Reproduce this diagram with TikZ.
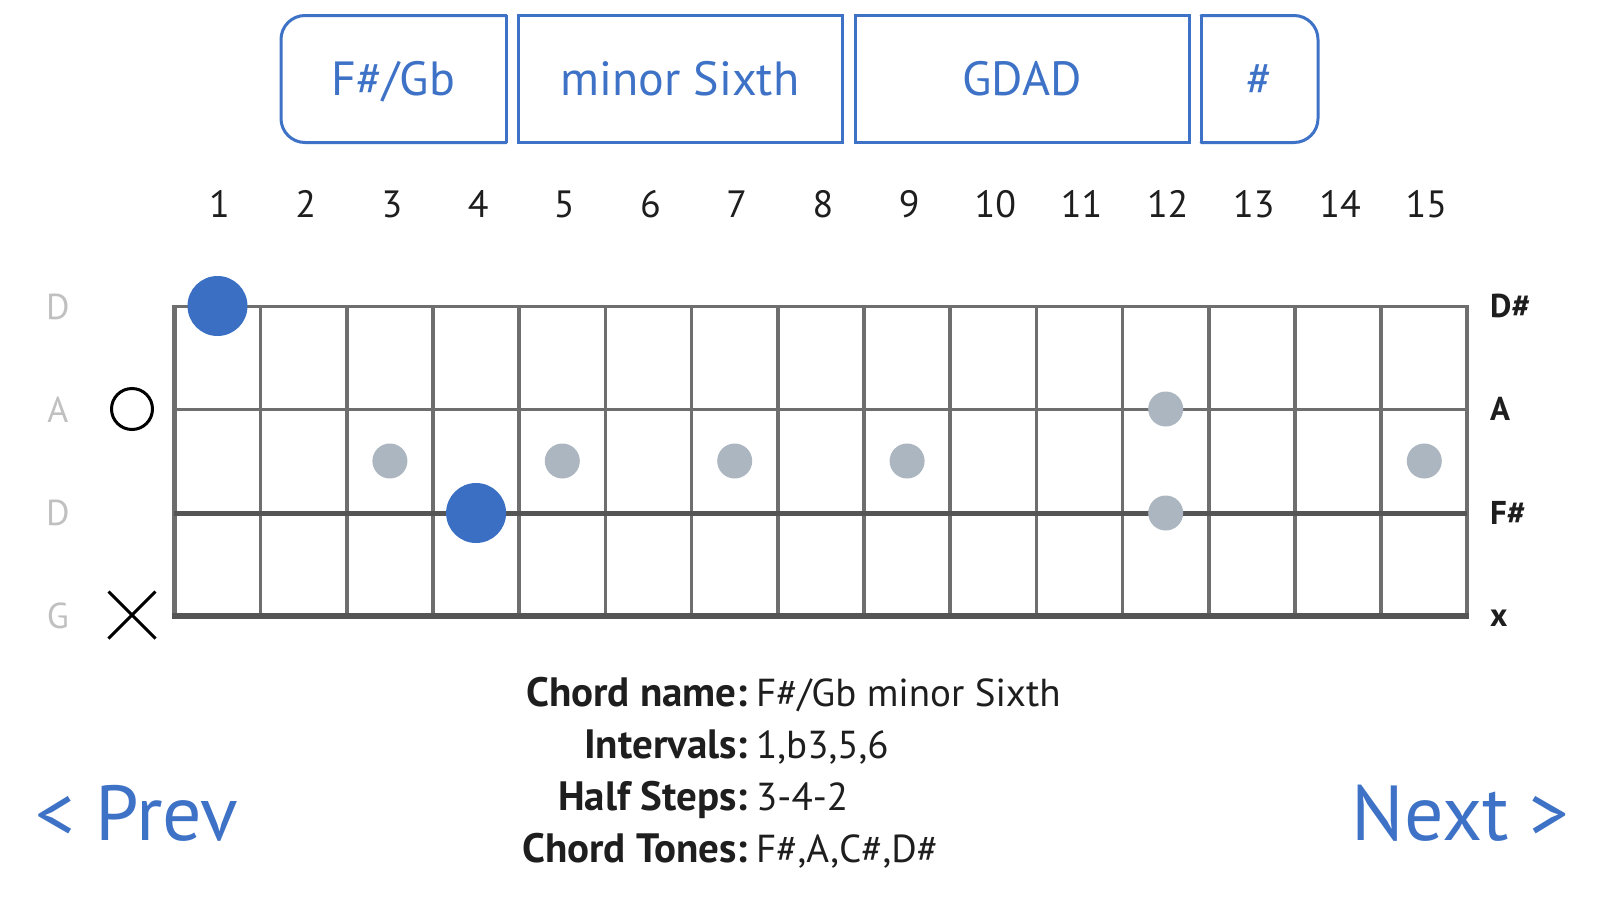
\documentclass[tikz,border=0pt]{standalone}
\usepackage{fontspec}
\setmainfont{PT Sans}
\usetikzlibrary{shapes.misc}

\definecolor{btnblue}{RGB}{62,114,198}
\definecolor{dotblue}{RGB}{58,111,196}
\definecolor{dotgray}{RGB}{172,182,192}
\definecolor{fretgray}{RGB}{110,110,110}
\definecolor{stringgray}{RGB}{85,85,85}
\definecolor{namegray}{RGB}{192,192,192}
\definecolor{txtdark}{RGB}{30,30,30}

\begin{document}
\begin{tikzpicture}[x=1pt,y=-1pt,
  btn/.style={draw=btnblue,line width=3pt,line cap=round},
  btntext/.style={text=btnblue,font=\fontsize{48}{56}\selectfont,minimum height=127pt,inner sep=0pt,outer sep=0pt,text height=33.6pt,text depth=0pt},
  fretnum/.style={text=txtdark,font=\fontsize{38}{44}\selectfont},
  strname/.style={text=namegray,font=\fontsize{36}{42}\selectfont},
  note/.style={text=txtdark,font=\bfseries\fontsize{33}{40}\selectfont,anchor=west,inner sep=0pt},
  fret/.style={draw=fretgray,line width=3.5pt},
  root/.style={circle,fill=dotblue,minimum size=60pt,inner sep=0pt},
  fretmark/.style={circle,fill=dotgray,minimum size=35pt,inner sep=0pt},
  info/.style={text=txtdark,font=\bfseries\fontsize{41}{46}\selectfont,anchor=base east,inner sep=0pt},
  infoval/.style={text=txtdark,font=\fontsize{39}{46}\selectfont,anchor=base west,inner sep=0pt},
  nav/.style={text=btnblue,font=\fontsize{78}{86}\selectfont,inner sep=0pt}]
\fill[white] (0,0) rectangle (1599,900);
\useasboundingbox (0,0) rectangle (1599,900);

\node[btntext,minimum width=225pt] (key) at (393.5,79) {F\#/Gb};
\draw[btn,rounded corners=24pt] (key.south east) -- (key.south west) -- (key.north west) -- (key.north east);
\draw[btn] (key.north east) -- (key.south east);
\node[btntext,btn,minimum width=324pt] (quality) at (680,79) {minor Sixth};
\node[btntext,btn,minimum width=334pt] (tuning) at (1022,79) {GDAD};
\node[btntext,minimum width=117pt] (accid) at (1259.5,79) {\#};
\draw[btn,rounded corners=24pt] (accid.north west) -- (accid.north east) -- (accid.south east) -- (accid.south west);
\draw[btn] (accid.south west) -- (accid.north west);

\node[fretnum] (n1) at (219.5,204) {1};
\node[fretnum] (n2) at (305.7,204) {2};
\node[fretnum] (n3) at (391.9,204) {3};
\node[fretnum] (n4) at (478.1,204) {4};
\node[fretnum] (n5) at (564.3,204) {5};
\node[fretnum] (n6) at (650.5,204) {6};
\node[fretnum] (n7) at (736.7,204) {7};
\node[fretnum] (n8) at (822.9,204) {8};
\node[fretnum] (n9) at (909.1,204) {9};
\node[fretnum] (n10) at (995.3,204) {10};
\node[fretnum] (n11) at (1081.5,204) {11};
\node[fretnum] (n12) at (1167.7,204) {12};
\node[fretnum] (n13) at (1253.9,204) {13};
\node[fretnum] (n14) at (1340.1,204) {14};
\node[fretnum] (n15) at (1426.3,204) {15};

\draw[fret,line width=4.5pt] (174.4,306) -- (174.4,616);
\draw[fret] (260.6,306) -- (260.6,616);
\draw[fret] (346.8,306) -- (346.8,616);
\draw[fret] (433.0,306) -- (433.0,616);
\draw[fret] (519.2,306) -- (519.2,616);
\draw[fret] (605.4,306) -- (605.4,616);
\draw[fret] (691.6,306) -- (691.6,616);
\draw[fret] (777.8,306) -- (777.8,616);
\draw[fret] (864.0,306) -- (864.0,616);
\draw[fret] (950.2,306) -- (950.2,616);
\draw[fret] (1036.4,306) -- (1036.4,616);
\draw[fret] (1122.6,306) -- (1122.6,616);
\draw[fret] (1208.8,306) -- (1208.8,616);
\draw[fret] (1295.0,306) -- (1295.0,616);
\draw[fret] (1381.2,306) -- (1381.2,616);
\draw[fret,line width=4pt] (1467.4,306) -- (1467.4,616);
\draw[fret,line width=3pt] (172.2,306) -- (1469.4,306);
\draw[fret,line width=3pt] (174.4,409) -- (1467.4,409);
\draw[draw=stringgray,line width=5pt] (174.4,513) -- (1467.4,513);
\draw[draw=stringgray,line width=5.5pt] (172.2,616) -- (1469.4,616);

\node[strname] (s4) at (58,307) {D};
\node[strname] (s3) at (58,410) {A};
\node[strname] (s2) at (58,513) {D};
\node[strname] (s1) at (58,616) {G};
\node[draw,circle,line width=3pt,minimum size=41pt,inner sep=0pt] (open) at (132,409) {};
\node[draw,cross out,line width=3pt,minimum size=44pt,inner sep=0pt] (mute) at (132,615) {};

\node[fretmark] (m3) at (389.9,461) {};
\node[fretmark] (m5) at (562.3,461) {};
\node[fretmark] (m7) at (734.7,461) {};
\node[fretmark] (m9) at (907.1,461) {};
\node[fretmark] (m12a) at (1165.7,409) {};
\node[fretmark] (m12b) at (1165.7,513) {};
\node[fretmark] (m15) at (1424.3,461) {};
\node[root] (r1) at (217.5,306) {};
\node[root] (r4) at (476.1,513) {};

\node[note] (t4) at (1490,306) {D\#};
\node[note] (t3) at (1490,409) {A};
\node[note] (t2) at (1490,513) {F\#};
\node[note] (t1) at (1490,618) {x};

\node[info] (cname) at (748,706) {Chord name:};
\node[infoval] (cnamev) at (756,706) {F\#/Gb minor Sixth};
\node[info] (ivals) at (748,758) {Intervals:};
\node[infoval] (ivalsv) at (756,758) {1,b3,5,6};
\node[info] (hsteps) at (748,810) {Half Steps:};
\node[infoval] (hstepsv) at (756,810) {3-4-2};
\node[info] (tones) at (748,862) {Chord Tones:};
\node[infoval] (tonesv) at (756,862) {F\#,A,C\#,D\#};

\node[nav,anchor=west] (prev) at (35,813) {< Prev};
\node[nav,anchor=east] (next) at (1569,813) {Next >};
\end{tikzpicture}
\end{document}
